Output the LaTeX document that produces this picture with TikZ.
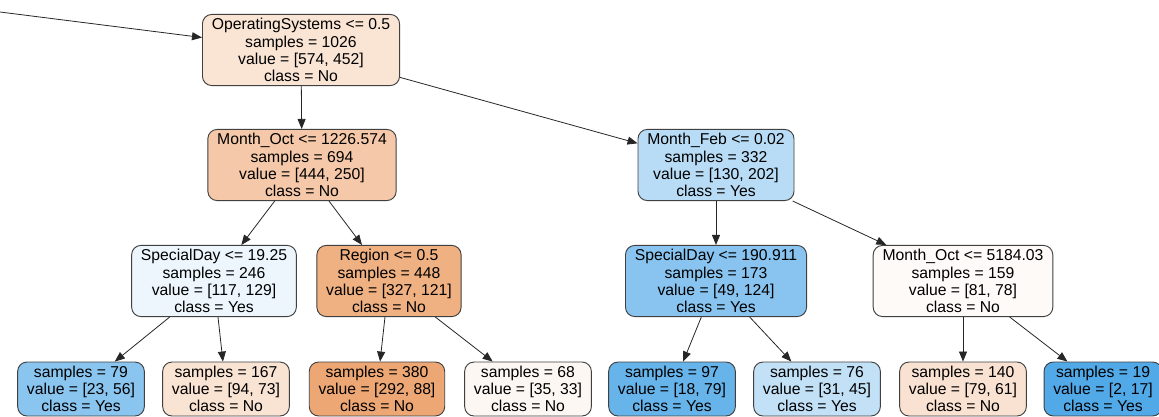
\documentclass[tikz,border=0pt]{standalone}
\usepackage{fontspec}
\setmainfont{Liberation Sans}
\usetikzlibrary{arrows.meta}
\definecolor{clsno}{RGB}{229,129,57}
\definecolor{clsyes}{RGB}{57,157,229}
\tikzset{
  split/.style={draw=black!75, line width=0.7pt, rounded corners=7pt, align=center,
    inner xsep=7pt, inner ysep=3pt, font=\fontsize{11.8}{12.9}\selectfont},
  edge/.style={-{Triangle[length=7.5pt,width=6pt]}, black!85, line width=0.6pt}
}
\begin{document}
\begin{tikzpicture}[x=0.75pt,y=-0.75pt]
  \useasboundingbox (0,0) rectangle (1159,417);
  \coordinate (IN) at (0,12);
  % root and first split
  \node[split,fill=clsno!21!white] at (301,50) (OS)
    {OperatingSystems <= 0.5\\samples = 1026\\value = [574, 452]\\class = No};
  \node[split,fill=clsno!44!white] at (302,165) (MOa)
    {Month\_Oct <= 1226.574\\samples = 694\\value = [444, 250]\\class = No};
  \node[split,fill=clsyes!36!white] at (716,165) (MF)
    {Month\_Feb <= 0.02\\samples = 332\\value = [130, 202]\\class = Yes};
  % second level
  \node[split,fill=clsyes!9!white] at (214,281) (SDa)
    {SpecialDay <= 19.25\\samples = 246\\value = [117, 129]\\class = Yes};
  \node[split,fill=clsno!63!white] at (389,281) (RG)
    {Region <= 0.5\\samples = 448\\value = [327, 121]\\class = No};
  \node[split,fill=clsyes!60!white] at (716,281) (SDb)
    {SpecialDay <= 190.911\\samples = 173\\value = [49, 124]\\class = Yes};
  \node[split,fill=clsno!4!white] at (963,281) (MOb)
    {Month\_Oct <= 5184.03\\samples = 159\\value = [81, 78]\\class = No};
  % leaves
  \node[split,fill=clsyes!59!white] at (81,389) (L79)
    {samples = 79\\value = [23, 56]\\class = Yes};
  \node[split,fill=clsno!22!white] at (226,389) (L167)
    {samples = 167\\value = [94, 73]\\class = No};
  \node[split,fill=clsno!70!white] at (377,389) (L380)
    {samples = 380\\value = [292, 88]\\class = No};
  \node[split,fill=clsno!6!white] at (528,389) (L68)
    {samples = 68\\value = [35, 33]\\class = No};
  \node[split,fill=clsyes!77!white] at (672,389) (L97)
    {samples = 97\\value = [18, 79]\\class = Yes};
  \node[split,fill=clsyes!31!white] at (817,389) (L76)
    {samples = 76\\value = [31, 45]\\class = Yes};
  \node[split,fill=clsno!23!white] at (963,389) (L140)
    {samples = 140\\value = [79, 61]\\class = No};
  \node[split,fill=clsyes!88!white] at (1103,389) (L19)
    {samples = 19\\value = [2, 17]\\class = Yes};
  % edges
  \draw[edge] (IN) -- (OS);
  \draw[edge] (OS) -- (MOa);
  \draw[edge] (OS) -- (MF);
  \draw[edge] (MOa) -- (SDa);
  \draw[edge] (MOa) -- (RG);
  \draw[edge] (MF) -- (SDb);
  \draw[edge] (MF) -- (MOb);
  \draw[edge] (SDa) -- (L79);
  \draw[edge] (SDa) -- (L167);
  \draw[edge] (RG) -- (L380);
  \draw[edge] (RG) -- (L68);
  \draw[edge] (SDb) -- (L97);
  \draw[edge] (SDb) -- (L76);
  \draw[edge] (MOb) -- (L140);
  \draw[edge] (MOb) -- (L19);
\end{tikzpicture}
\end{document}
